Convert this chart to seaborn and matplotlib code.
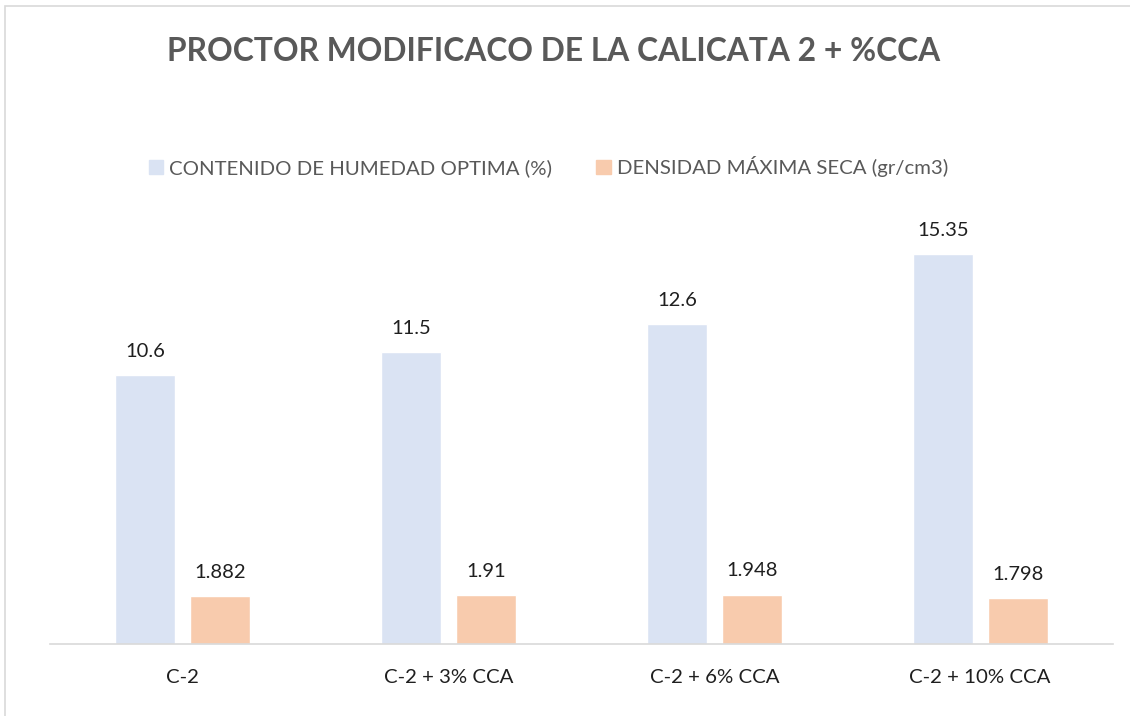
import matplotlib
matplotlib.use("Agg")
import matplotlib.pyplot as plt
import matplotlib.patches as mpatches
import seaborn as sns
import pandas as pd

# data
categorias = ["C-2", "C-2 + 3% CCA", "C-2 + 6% CCA", "C-2 + 10% CCA"]
humedad = [10.6, 11.5, 12.6, 15.35]
densidad = [1.882, 1.91, 1.948, 1.798]
series = ["CONTENIDO DE HUMEDAD OPTIMA (%)", "DENSIDAD MÁXIMA SECA (gr/cm3)"]
etiquetas_h = ["10.6", "11.5", "12.6", "15.35"]
etiquetas_d = ["1.882", "1.91", "1.948", "1.798"]

df = pd.DataFrame({
    "categoria": categorias * 2,
    "serie": [series[0]] * 4 + [series[1]] * 4,
    "valor": humedad + densidad,
})

sns.set_style("white")
plt.rcParams["font.family"] = ["Lato", "DejaVu Sans"]

gris = "#595959"
negro = "#1f1f1f"
colores = {series[0]: "#DAE3F3", series[1]: "#F8CBAD"}

fig = plt.figure(figsize=(11.3, 7.16), dpi=100)
ax = fig.add_axes([0.0442, 0.1006, 0.9408, 0.6061])

sns.barplot(data=df, x="categoria", y="valor", hue="serie", order=categorias,
            hue_order=series, palette=colores, width=0.564, gap=0.2,
            saturation=1, legend=False, ax=ax)

for cont, labs in zip(ax.containers, [etiquetas_h, etiquetas_d]):
    ax.bar_label(cont, labels=labs, padding=11, fontsize=14.5, color=negro)

ax.set_ylim(0, 17.09)
ax.set_xlim(-0.5, 3.5)
ax.set_xlabel("")
ax.set_ylabel("")
ax.set_yticks([])
ax.tick_params(axis="x", length=0, labelsize=14.7, labelcolor=negro, pad=18)
for s in ["top", "right", "left"]:
    ax.spines[s].set_visible(False)
ax.spines["bottom"].set_color("#D9D9D9")
ax.spines["bottom"].set_linewidth(1.2)

fig.text(0.49, 0.928, "PROCTOR MODIFICACO DE LA CALICATA 2 + %CCA",
         ha="center", va="center", fontsize=22.9, fontweight="bold", color=gris)

handles = [mpatches.Patch(color=colores[s], label=s) for s in series]
fig.legend(handles=handles, loc="center", bbox_to_anchor=(0.4854, 0.767),
           ncol=2, frameon=False, fontsize=14.7, labelcolor=gris,
           handlelength=0.7, handleheight=0.7, handletextpad=0.3, columnspacing=2.15)

borde = mpatches.Rectangle((5 / 1130, -0.01), 1.1, 1 - 6 / 716 + 0.01,
                           transform=fig.transFigure, fill=False,
                           edgecolor="#D9D9D9", linewidth=1.2)
fig.patches.append(borde)

plt.savefig("out.png", dpi=100)
